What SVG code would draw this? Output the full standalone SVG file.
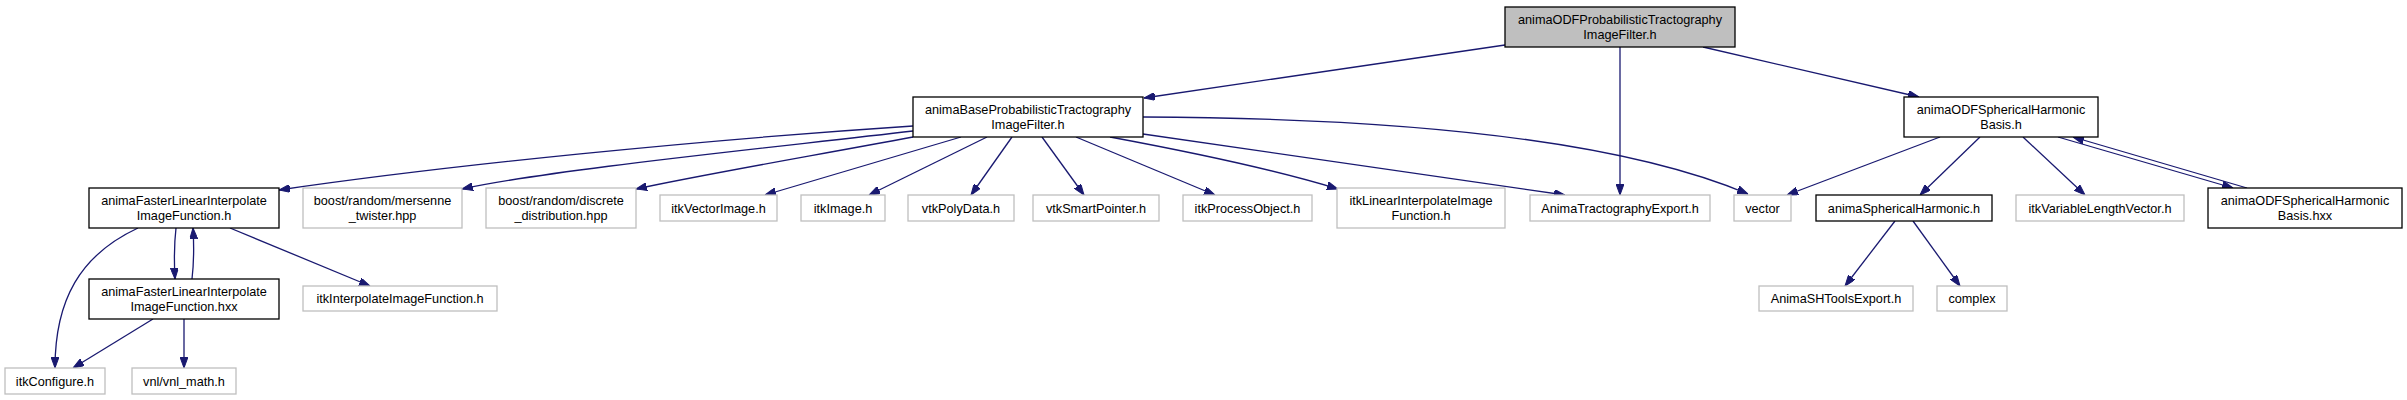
<svg xmlns="http://www.w3.org/2000/svg" width="2407" height="400" viewBox="0 0 2407 400">
<defs>
<style>
.n rect{fill:#fff;stroke:#000;stroke-width:1.3}
.g rect{fill:#fff;stroke:#bfbfbf;stroke-width:1.3}
.top rect{fill:#bfbfbf;stroke:#000;stroke-width:1.3}
text{font-family:"Liberation Sans",Arial,sans-serif;font-size:12.7px;text-anchor:middle;fill:#000}
#edges path{fill:none;stroke:#191970;stroke-width:1.3;marker-end:url(#ah)}
</style>
<marker id="ah" viewBox="0 -4 11 8" markerUnits="userSpaceOnUse" markerWidth="11" markerHeight="8" refX="11" refY="0" orient="auto">
<path d="M0,-4 L11,0 L0,4 z" fill="#191970" stroke="#191970" stroke-width="1"/>
</marker>
</defs>
<rect width="2407" height="400" fill="#fff"/>
<g id="edges">
<path d="M1505,45 L1144,98"/>
<path d="M1620,47 L1620,195"/>
<path d="M1703,47 L1919,97"/>
<path d="M913,126 C700,140 450,165 279,190"/>
<path d="M913,131 C750,150 550,170 462,189"/>
<path d="M913,137 C800,158 700,175 636,189"/>
<path d="M961,137 L765,195"/>
<path d="M987,137 L869,195"/>
<path d="M1012,137 L971,195"/>
<path d="M1042,137 L1084,195"/>
<path d="M1076,137 L1215,195"/>
<path d="M1110,137 C1180,150 1270,168 1338,189"/>
<path d="M1143,134 L1565,195"/>
<path d="M1143,117 C1400,118 1620,140 1748,194"/>
<path d="M1940,137 L1787,195"/>
<path d="M1980,137 L1920,195"/>
<path d="M2023,137 L2085,195"/>
<path d="M2058,137 L2233,188"/>
<path d="M2247,188 L2073,137"/>
<path d="M1895,221 L1845,286"/>
<path d="M1913,221 L1960,286"/>
<path d="M138,228 C80,255 55,300 55,368"/>
<path d="M176,228 C174,245 174,260 175,279"/>
<path d="M192,279 C194,262 194,245 193,228"/>
<path d="M230,228 L370,286"/>
<path d="M153,319 L73,368"/>
<path d="M184,319 L184,368"/>
</g>
<g id="n_top" class="top"><rect x="1505" y="7" width="230" height="40"/><text x="1620" y="23.5">animaODFProbabilisticTractography</text><text x="1620" y="38.5">ImageFilter.h</text></g>
<g id="n_base" class="n"><rect x="913" y="97" width="230" height="40"/><text x="1028" y="113.5">animaBaseProbabilisticTractography</text><text x="1028" y="128.5">ImageFilter.h</text></g>
<g id="n_shb" class="n"><rect x="1904" y="97" width="194" height="40"/><text x="2001" y="113.5">animaODFSphericalHarmonic</text><text x="2001" y="128.5">Basis.h</text></g>
<g id="n_fli" class="n"><rect x="89" y="188" width="190" height="40"/><text x="184" y="204.5">animaFasterLinearInterpolate</text><text x="184" y="219.5">ImageFunction.h</text></g>
<g id="n_mt" class="g"><rect x="303" y="188" width="159" height="40"/><text x="382.5" y="204.5">boost/random/mersenne</text><text x="382.5" y="219.5">_twister.hpp</text></g>
<g id="n_dd" class="g"><rect x="486" y="188" width="150" height="40"/><text x="561" y="204.5">boost/random/discrete</text><text x="561" y="219.5">_distribution.hpp</text></g>
<g id="n_vi" class="g"><rect x="660" y="195" width="117" height="26"/><text x="718.5" y="212.5">itkVectorImage.h</text></g>
<g id="n_img" class="g"><rect x="801" y="195" width="84" height="26"/><text x="843" y="212.5">itkImage.h</text></g>
<g id="n_vpd" class="g"><rect x="908" y="195" width="106" height="26"/><text x="961" y="212.5">vtkPolyData.h</text></g>
<g id="n_vsp" class="g"><rect x="1033" y="195" width="126" height="26"/><text x="1096" y="212.5">vtkSmartPointer.h</text></g>
<g id="n_po" class="g"><rect x="1183" y="195" width="129" height="26"/><text x="1247.5" y="212.5">itkProcessObject.h</text></g>
<g id="n_lii" class="g"><rect x="1337" y="188" width="168" height="40"/><text x="1421" y="204.5">itkLinearInterpolateImage</text><text x="1421" y="219.5">Function.h</text></g>
<g id="n_te" class="g"><rect x="1530" y="195" width="180" height="26"/><text x="1620" y="212.5">AnimaTractographyExport.h</text></g>
<g id="n_vec" class="g"><rect x="1734" y="195" width="57" height="26"/><text x="1762.5" y="212.5">vector</text></g>
<g id="n_sh" class="n"><rect x="1816" y="195" width="176" height="26"/><text x="1904" y="212.5">animaSphericalHarmonic.h</text></g>
<g id="n_vlv" class="g"><rect x="2016" y="195" width="168" height="26"/><text x="2100" y="212.5">itkVariableLengthVector.h</text></g>
<g id="n_shbx" class="n"><rect x="2208" y="188" width="194" height="40"/><text x="2305" y="204.5">animaODFSphericalHarmonic</text><text x="2305" y="219.5">Basis.hxx</text></g>
<g id="n_flix" class="n"><rect x="89" y="279" width="190" height="40"/><text x="184" y="295.5">animaFasterLinearInterpolate</text><text x="184" y="310.5">ImageFunction.hxx</text></g>
<g id="n_iif" class="g"><rect x="303" y="286" width="194" height="25"/><text x="400" y="303">itkInterpolateImageFunction.h</text></g>
<g id="n_she" class="g"><rect x="1759" y="286" width="154" height="25"/><text x="1836" y="303">AnimaSHToolsExport.h</text></g>
<g id="n_cx" class="g"><rect x="1937" y="286" width="70" height="25"/><text x="1972" y="303">complex</text></g>
<g id="n_cfg" class="g"><rect x="5" y="368" width="100" height="26"/><text x="55" y="385.5">itkConfigure.h</text></g>
<g id="n_vnl" class="g"><rect x="132" y="368" width="104" height="26"/><text x="184" y="385.5">vnl/vnl_math.h</text></g>
</svg>
